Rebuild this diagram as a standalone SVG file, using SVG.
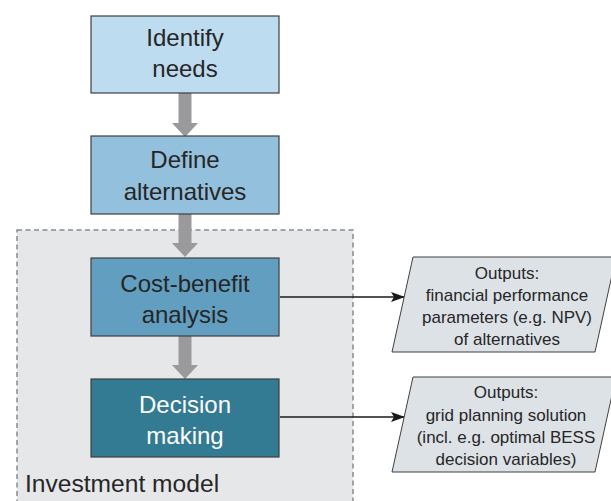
<svg xmlns="http://www.w3.org/2000/svg" width="611" height="501" viewBox="0 0 611 501">
<defs>
<style>
.box{stroke:#3f3f3f;stroke-width:1.2}
.t{font-family:"Liberation Sans",Arial,sans-serif;font-size:24px;fill:#262626;text-anchor:middle}
.tw{fill:#ffffff}
.s{font-family:"Liberation Sans",Arial,sans-serif;font-size:17px;fill:#262626;text-anchor:middle}
.par{fill:#dde2e6;stroke:#404040;stroke-width:1}
.conn{stroke:#1a1a1a;stroke-width:1.6;fill:none}
.garrow{fill:#9a9a9c}
</style>
<marker id="ah" markerWidth="14" markerHeight="10" refX="13" refY="5" orient="auto" markerUnits="userSpaceOnUse">
<path d="M0,0 L14,5 L0,10 L3,5 Z" fill="#1a1a1a"/>
</marker>
</defs>
<rect width="611" height="501" fill="#ffffff"/>
<g id="investment-model">
<rect x="17" y="230" width="336" height="290" fill="#e6e7e9" stroke="#8a8a8a" stroke-width="1.5" stroke-dasharray="5,3.5"/>
<text x="25" y="492" font-family="'Liberation Sans',Arial,sans-serif" font-size="24.6" fill="#262626">Investment model</text>
</g>
<g id="connectors">
<path class="garrow" d="M178.5,93 H191.5 V123 H198 L185,137 L172,123 H178.5 Z"/>
<path class="garrow" d="M178.5,214 H191.5 V243 H198 L185,257 L172,243 H178.5 Z"/>
<path class="garrow" d="M178.5,336 H191.5 V365 H198 L185,379 L172,365 H178.5 Z"/>
<line class="conn" x1="280" y1="297" x2="404" y2="297" marker-end="url(#ah)"/>
<line class="conn" x1="280" y1="417" x2="404" y2="417" marker-end="url(#ah)"/>
</g>
<g id="identify-needs">
<rect class="box" x="91" y="16" width="188" height="77" fill="#bedcf0"/>
<text class="t" x="185" y="46">Identify</text>
<text class="t" x="185" y="77">needs</text>
</g>
<g id="define-alternatives">
<rect class="box" x="91" y="136" width="188" height="78" fill="#93c0dc"/>
<text class="t" x="185" y="168">Define</text>
<text class="t" x="185" y="200">alternatives</text>
</g>
<g id="cost-benefit-analysis">
<rect class="box" x="91" y="258" width="188" height="78" fill="#619ebf"/>
<text class="t" x="185" y="292">Cost-benefit</text>
<text class="t" x="185" y="323">analysis</text>
</g>
<g id="decision-making">
<rect class="box" x="91" y="379" width="188" height="78" fill="#337a93"/>
<text class="t tw" x="185" y="413">Decision</text>
<text class="t tw" x="185" y="444">making</text>
</g>
<g id="outputs-financial">
<polygon class="par" points="413,257 616,257 595,352 392,352"/>
<text class="s" x="507" y="279">Outputs:</text>
<text class="s" x="507" y="301">financial performance</text>
<text class="s" x="507" y="323">parameters (e.g. NPV)</text>
<text class="s" x="507" y="345">of alternatives</text>
</g>
<g id="outputs-grid">
<polygon class="par" points="413,377 616,377 595,472 392,472"/>
<text class="s" x="506" y="398">Outputs:</text>
<text class="s" x="506" y="421">grid planning solution</text>
<text class="s" x="506" y="443">(incl. e.g. optimal BESS</text>
<text class="s" x="506" y="465">decision variables)</text>
</g>
</svg>
